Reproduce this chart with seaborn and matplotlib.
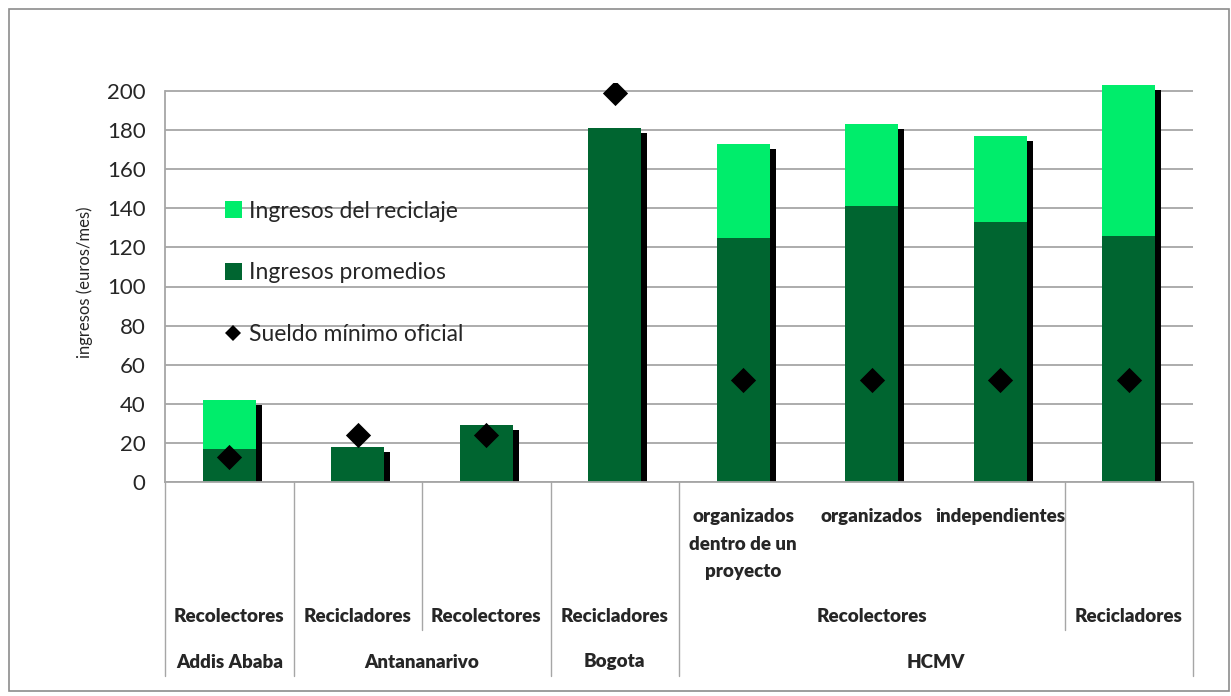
import seaborn as sns
import matplotlib.pyplot as plt
import matplotlib.patheffects as pe
from matplotlib.patches import Patch, Rectangle
from matplotlib.lines import Line2D
from matplotlib.transforms import blended_transform_factory

# Data (euros / month)
bar_ids = ['c0', 'c1', 'c2', 'c3', 'c4', 'c5', 'c6', 'c7']
ingresos_promedios = [17, 18, 29, 181, 125, 141, 133, 126]
ingresos_total = [42, 18, 29, 181, 173, 183, 177, 203]
sueldo_minimo = [13, 24, 24, 199, 52, 52, 52, 52]

# Multi-level category labels
sub_labels = ['', '', '', '', 'organizados\ndentro de un\nproyecto', 'organizados', 'independientes', '']
group_labels = ['Recolectores', 'Recicladores', 'Recolectores', 'Recicladores', 'Recolectores', 'Recicladores']
group_centers = [0, 1, 2, 3, 5, 7]
city_labels = ['Addis Ababa', 'Antananarivo', 'Bogota', 'HCMV']
city_centers = [0, 1.5, 3, 5.5]
y_ticks = [0, 20, 40, 60, 80, 100, 120, 140, 160, 180, 200]

light_green = '#00ED6B'
dark_green = '#006530'
grid_gray = '#A6A6A6'

sns.set_style('white')
plt.rcParams['font.family'] = ['Lato', 'DejaVu Sans']

W, H = 1231, 696
fig = plt.figure(figsize=(W / 100, H / 100), dpi=100)
ax_h = 391 * 204 / 200
ax = fig.add_axes([165 / W, 1 - 482 / H, 1028 / W, ax_h / H])

# stacked bars: total first (with shadow), promedio on top
sns.barplot(x=bar_ids, y=ingresos_total, color=light_green, saturation=1,
            width=0.41, errorbar=None, linewidth=0, ax=ax)
for p in ax.patches:
    p.set_path_effects([pe.SimplePatchShadow(offset=(4.3, -3.6), shadow_rgbFace='k', alpha=1),
                        pe.Normal()])
sns.barplot(x=bar_ids, y=ingresos_promedios, color=dark_green, saturation=1,
            width=0.41, errorbar=None, linewidth=0, ax=ax)
sns.scatterplot(x=bar_ids, y=sueldo_minimo, marker='D', s=165, color='black',
                linewidth=0, zorder=5, ax=ax)

ax.set_xlim(-0.5, 7.5)
ax.set_ylim(0, 204)
ax.set_yticks(y_ticks)
ax.set_yticklabels([str(v) for v in y_ticks], fontsize=16)
ax.tick_params(axis='y', length=0, pad=14)
ax.tick_params(axis='x', length=0, labelbottom=False)
ax.set_xlabel('')
ax.set_ylabel('ingresos (euros/mes)', fontsize=12, labelpad=10)
ax.yaxis.grid(True, color=grid_gray, linewidth=1.3)
ax.set_axisbelow(True)
for s in ['top', 'right']:
    ax.spines[s].set_visible(False)
ax.spines['left'].set_bounds(0, 200)
ax.spines['left'].set_color(grid_gray)
ax.spines['bottom'].set_color(grid_gray)
ax.spines['left'].set_linewidth(1.3)
ax.spines['bottom'].set_linewidth(1.3)

# legend
handles = [Patch(facecolor=light_green, edgecolor='none'),
           Patch(facecolor=dark_green, edgecolor='none'),
           Line2D([], [], marker='D', color='k', ls='', ms=8.5, markeredgewidth=0)]
ax.legend(handles, ['Ingresos del reciclaje', 'Ingresos promedios', 'Sueldo mínimo oficial'],
          loc='upper left', bbox_to_anchor=(0.058, 0.705), frameon=False, fontsize=16.5,
          labelspacing=1.77, handlelength=0.75, handleheight=0.75, handletextpad=0.3,
          borderpad=0, borderaxespad=0)

# multi-level axis below the plot
trans = blended_transform_factory(ax.transData, fig.transFigure)
def fy(ypix):
    return 1 - ypix / H

lab_kw = dict(transform=trans, ha='center', fontsize=13.5, fontweight='heavy')
for i, lab in enumerate(sub_labels):
    if lab:
        ax.text(i, fy(508), lab, va='top', linespacing=1.75, **lab_kw)
for c, lab in zip(group_centers, group_labels):
    ax.text(c, fy(616), lab, va='center', **lab_kw)
for c, lab in zip(city_centers, city_labels):
    ax.text(c, fy(662), lab, va='center', **lab_kw)

for xb in [-0.5, 0.5, 2.5, 3.5, 7.5]:
    ax.plot([xb, xb], [fy(482), fy(676)], transform=trans, color=grid_gray,
            lw=1, clip_on=False)
for xb in [1.5, 6.5]:
    ax.plot([xb, xb], [fy(482), fy(630)], transform=trans, color=grid_gray,
            lw=1, clip_on=False)

# outer chart border
fig.add_artist(Rectangle((9 / W, 1 - 691 / H), 1220 / W, 682 / H, transform=fig.transFigure,
                         fill=False, edgecolor='#8C8C8C', lw=1.2))

fig.savefig('out.png', dpi=100)
